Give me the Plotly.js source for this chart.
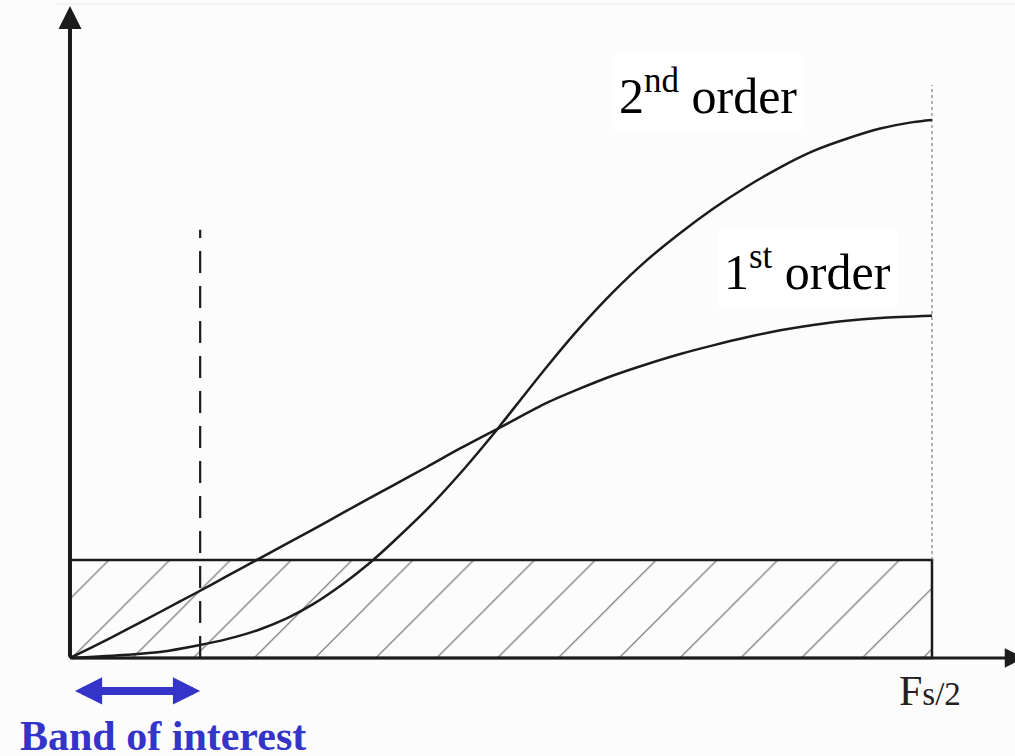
<!DOCTYPE html>
<html>
<head>
<meta charset="utf-8">
<script src="https://cdn.plot.ly/plotly-3.0.1.min.js"></script>
<style>html,body{margin:0;padding:0;background:#fcfcfc;}#chart{width:1015px;height:756px;}</style>
</head>
<body>
<div id="chart"></div>
<script>
// Frequency as a fraction of Fs/2; noise power normalised to the 2nd-order peak
const freq1st = [0, 0.027, 0.066, 0.104, 0.151, 0.182, 0.212, 0.259, 0.298, 0.336, 0.375, 0.414, 0.452, 0.502, 0.553, 0.592, 0.630, 0.669, 0.708, 0.746, 0.785, 0.824, 0.862, 0.901, 0.940, 1.0];
const noise1st = [0, 0.021, 0.053, 0.085, 0.125, 0.152, 0.178, 0.219, 0.253, 0.287, 0.321, 0.355, 0.389, 0.431, 0.474, 0.501, 0.525, 0.546, 0.565, 0.581, 0.596, 0.609, 0.619, 0.627, 0.632, 0.636];
const freq2nd = [0, 0.066, 0.104, 0.151, 0.182, 0.220, 0.252, 0.282, 0.317, 0.348, 0.375, 0.414, 0.452, 0.491, 0.502, 0.553, 0.592, 0.630, 0.669, 0.708, 0.746, 0.785, 0.824, 0.862, 0.901, 0.940, 0.978, 1.0];
const noise2nd = [0, 0.006, 0.011, 0.024, 0.035, 0.053, 0.074, 0.100, 0.138, 0.177, 0.216, 0.276, 0.342, 0.416, 0.438, 0.541, 0.615, 0.680, 0.739, 0.790, 0.835, 0.876, 0.912, 0.942, 0.965, 0.984, 0.996, 1.0];
const noiseFloor = 0.182;     // flat (unshaped) quantisation noise level
const bandEdge = 0.151;       // edge of the band of interest
const nyquist = 1.0;          // Fs/2

const seriesLabels = ['1<sup>st</sup> order', '2<sup>nd</sup> order'];
const xLabel = 'F<span style="font-size:33px">s/2</span>';
const bandLabel = 'Band of interest';

const ink = '#1c1c1c';
const serif = 'Liberation Serif, Times New Roman, serif';
const blue = '#3434c8';

const traces = [
  { // hatched noise floor box
    x: [0, nyquist, nyquist, 0, 0],
    y: [0, 0, noiseFloor, noiseFloor, 0],
    mode: 'lines', fill: 'toself',
    fillcolor: 'rgba(255,255,255,0)',
    fillpattern: {shape: '/', size: 43, solidity: 0.03, fgcolor: '#808080', bgcolor: 'rgba(0,0,0,0)'},
    line: {color: ink, width: 2.5},
    hoverinfo: 'skip', showlegend: false
  },
  { // band of interest edge
    x: [bandEdge, bandEdge], y: [0, 0.796],
    mode: 'lines', line: {color: ink, width: 2.2, dash: '22px,13px'},
    hoverinfo: 'skip', showlegend: false
  },
  { // Fs/2 marker
    x: [nyquist, nyquist], y: [noiseFloor, 1.065],
    mode: 'lines', line: {color: '#666', width: 1, dash: 'dot'},
    hoverinfo: 'skip', showlegend: false
  },
  {
    x: freq1st, y: noise1st, mode: 'lines',
    line: {color: ink, width: 2.5, shape: 'spline', smoothing: 0.8},
    hoverinfo: 'skip', showlegend: false
  },
  {
    x: freq2nd, y: noise2nd, mode: 'lines',
    line: {color: ink, width: 2.5, shape: 'spline', smoothing: 0.8},
    hoverinfo: 'skip', showlegend: false
  }
];

const layout = {
  width: 1015, height: 756,
  margin: {l: 0, r: 0, t: 0, b: 0},
  paper_bgcolor: '#fcfcfc', plot_bgcolor: 'rgba(0,0,0,0)',
  showlegend: false,
  xaxis: {range: [-0.0812, 1.0963], visible: false, fixedrange: true},
  yaxis: {range: [-0.1822, 1.2230], visible: false, fixedrange: true},
  shapes: [
    {type: 'line', xref: 'paper', yref: 'paper', x0: 0.056, x1: 1, y0: 0.9947, y1: 0.9947,
     line: {color: '#e3ecec', width: 1}}
  ],
  annotations: [
    { // y axis arrow
      x: 0, y: 1.212, ax: 0, ay: 0, xref: 'x', yref: 'y', axref: 'x', ayref: 'y',
      text: '', showarrow: true, arrowhead: 2, arrowsize: 1.15, arrowwidth: 4, arrowcolor: ink, standoff: 0
    },
    { // x axis arrow
      x: 1.107, y: 0, ax: 0, ay: 0, xref: 'x', yref: 'y', axref: 'x', ayref: 'y',
      text: '', showarrow: true, arrowhead: 2, arrowsize: 1.3, arrowwidth: 3, arrowcolor: ink, standoff: 0
    },
    { // band of interest double arrow
      x: bandEdge, y: -0.0613, ax: 0.004, ay: -0.0613, xref: 'x', yref: 'y', axref: 'x', ayref: 'y',
      text: '', showarrow: true, arrowside: 'end+start',
      arrowhead: 2, startarrowhead: 2, arrowsize: 0.68, startarrowsize: 0.68, arrowwidth: 8,
      arrowcolor: blue, standoff: 0, startstandoff: 0
    },
    {
      x: 0.629, y: 1.052, xref: 'x', yref: 'y', xanchor: 'left', yanchor: 'middle',
      text: seriesLabels[1], showarrow: false, bgcolor: '#ffffff', borderpad: 6,
      font: {family: serif, size: 50, color: '#000'}
    },
    {
      x: 0.751, y: 0.724, xref: 'x', yref: 'y', xanchor: 'left', yanchor: 'middle',
      text: seriesLabels[0], showarrow: false, bgcolor: '#ffffff', borderpad: 6,
      font: {family: serif, size: 50, color: '#000'}
    },
    {
      x: 0.959, y: -0.061, xref: 'x', yref: 'y', xanchor: 'left', yanchor: 'middle',
      text: xLabel, showarrow: false,
      font: {family: serif, size: 42, color: '#222'}
    },
    {
      x: -0.0603, y: -0.145, xref: 'x', yref: 'y', xanchor: 'left', yanchor: 'middle',
      text: '<b>' + bandLabel + '</b>', showarrow: false,
      font: {family: serif, size: 42, color: blue}
    }
  ]
};

Plotly.newPlot('chart', traces, layout, {staticPlot: true, displayModeBar: false});
</script>
</body>
</html>
